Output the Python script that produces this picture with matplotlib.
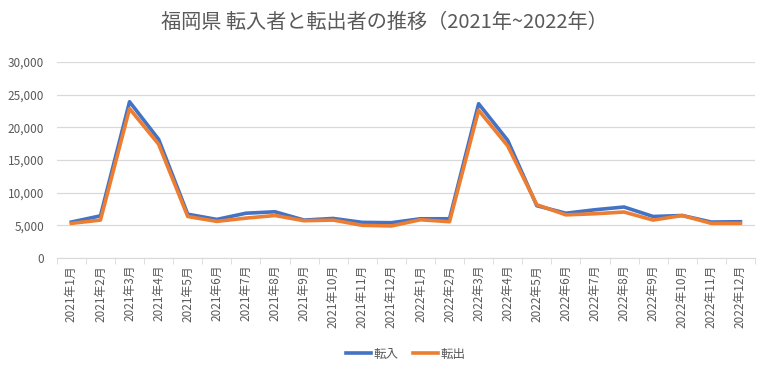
import matplotlib
matplotlib.use('Agg')
import matplotlib.pyplot as plt
from matplotlib.ticker import FuncFormatter, FixedLocator

plt.rcParams['font.family'] = ['Noto Sans CJK JP', 'DejaVu Sans']

months = [f'{y}年{m}月' for y in (2021, 2022) for m in range(1, 13)]
tennyu = [5500, 6450, 23900, 18150, 6700, 5900, 6850, 7070, 5800, 6050, 5450, 5400,
          6000, 6000, 23600, 18000, 8000, 6850, 7380, 7800, 6350, 6500, 5500, 5550]
tenshutsu = [5300, 5800, 22850, 17400, 6350, 5600, 6100, 6500, 5700, 5800, 5000, 4900,
             5850, 5550, 22600, 17150, 8150, 6600, 6770, 7030, 5800, 6500, 5300, 5300]
yticks = [0, 5000, 10000, 15000, 20000, 25000, 30000]

grey = '#595959'
fig = plt.figure(figsize=(7.68, 3.75), dpi=100)
ax = fig.add_axes([0.074, 0.312, 0.909, 0.523])
x = range(len(months))
ax.plot(x, tennyu, color='#4472C4', lw=2.6, label='転入', solid_joinstyle='round')
ax.plot(x, tenshutsu, color='#ED7D31', lw=2.6, label='転出', solid_joinstyle='round')

ax.set_xlim(-0.5, len(months) - 0.5)
ax.set_ylim(0, 30000)
ax.set_yticks(yticks)
ax.yaxis.set_major_formatter(FuncFormatter(lambda v, p: f'{int(v):,}'))
ax.grid(axis='y', color='#D9D9D9', lw=0.9)
ax.set_axisbelow(True)
for s in ('top', 'right', 'left'):
    ax.spines[s].set_visible(False)
ax.spines['bottom'].set_color('#D9D9D9')
ax.tick_params(axis='y', length=0, labelsize=8.5, labelcolor=grey, pad=9)
ax.set_xticks(list(x))
ax.set_xticklabels(months, rotation=90)
ax.tick_params(axis='x', which='major', length=0, labelsize=8.5, labelcolor=grey, pad=5)
ax.xaxis.set_minor_locator(FixedLocator([i - 0.5 for i in range(len(months) + 1)]))
ax.tick_params(axis='x', which='minor', length=4, color='#D9D9D9')

fig.text(0.5, 0.94, '福岡県 転入者と転出者の推移（2021年~2022年）', ha='center', va='center',
         fontsize=14.5, color=grey)
ax.legend(loc='center', bbox_to_anchor=(0.5, -0.49), ncol=2, frameon=False,
          fontsize=9, labelcolor=grey, handlelength=2.0, columnspacing=1.2, handletextpad=0.2)

fig.savefig('out.png', dpi=100)
